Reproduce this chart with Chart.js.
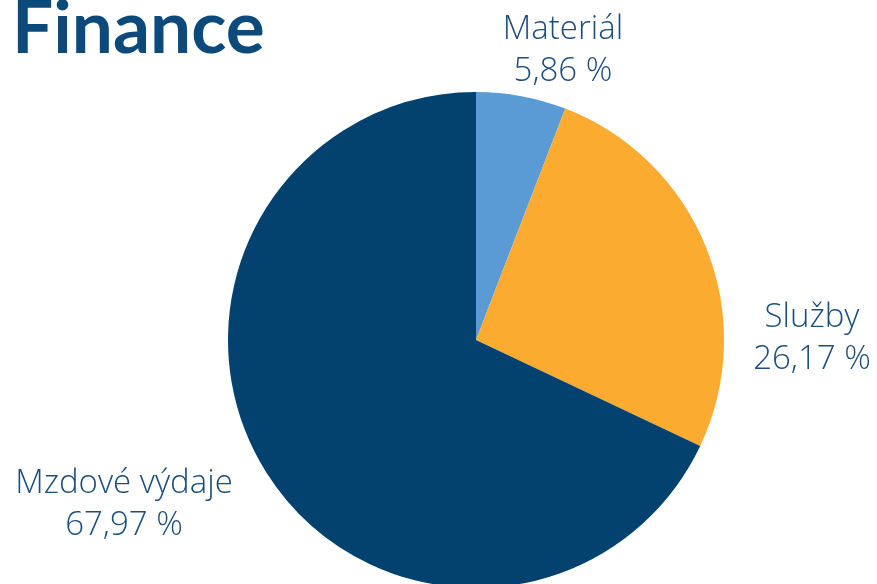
<!DOCTYPE html>
<html>
<head>
<meta charset="utf-8">
<script src="https://cdn.jsdelivr.net/npm/chart.js@4/dist/chart.umd.min.js"></script>
<style>
    html, body { margin: 0; padding: 0; background: #fff; overflow: hidden; width: 877px; height: 584px; }
    #title { position: absolute; left: 12px; top: -19px; margin: 0; font-family: Lato, sans-serif; font-weight: 700; font-size: 73px; color: #0c4a7b; }
    #wrap { position: absolute; left: 0; top: 0; width: 877px; height: 600px; }
</style>
</head>
<body>
<h1 id="title">Finance</h1>
<div id="wrap"><canvas id="financePie"></canvas></div>
<script>
const categories = ['Materiál', 'Služby', 'Mzdové výdaje'];
const shares = [5.86, 26.17, 67.97];
const colors = ['#5b9bd5', '#fbab30', '#03426f'];
// where each label block sits (centre x, baseline of first line)
const labelSpots = [[563, 39], [812, 327], [124, 493]];

const sliceLabels = {
    id: 'sliceLabels',
    afterDraw(chart) {
        const c = chart.ctx;
        c.save();
        c.fillStyle = '#1c4d7c';
        c.font = '300 33px "Open Sans"';
        c.textAlign = 'center';
        c.textBaseline = 'alphabetic';
        categories.forEach(function (name, i) {
            const [x, y] = labelSpots[i];
            c.fillText(name, x, y);
            c.fillText(shares[i].toFixed(2).replace('.', ',') + ' %', x, y + 42);
        });
        c.restore();
    }
};

document.addEventListener('DOMContentLoaded', function () {
    const ctx = document.getElementById('financePie').getContext('2d');
    new Chart(ctx, {
        type: 'pie',
        data: {
            labels: categories,
            datasets: [{
                data: shares,
                backgroundColor: colors,
                borderWidth: 0
            }]
        },
        options: {
            responsive: true,
            maintainAspectRatio: false,
            animation: false,
            layout: {
                padding: { top: 92, bottom: 12, left: 228, right: 153 }
            },
            plugins: {
                legend: { display: false },
                tooltip: { enabled: false }
            }
        },
        plugins: [sliceLabels]
    });
});
</script>
</body>
</html>
